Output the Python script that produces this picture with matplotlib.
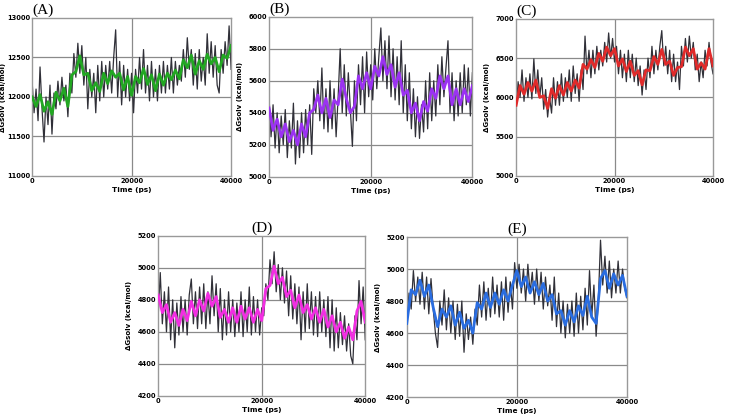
import numpy as np
import matplotlib
matplotlib.use("Agg")
import matplotlib.pyplot as plt

# time axis (ps)
t_raw = np.arange(0, 40001, 400)
t_mid = np.arange(0, 40001, 800)

# (A) raw trace and coloured inner trace
a_raw = [12200, 11800, 12100, 11700, 12380, 11850, 11430, 12000, 11650, 12150,
         11530, 12050, 11850, 12200, 11900, 12250, 11950, 12150, 11750, 12300,
         12050, 12550, 12250, 12680, 12300, 12650, 12150, 12500, 11850, 12350,
         12000, 12300, 11800, 12400, 11950, 12450, 12000, 12400, 12100, 12450,
         12050, 12500, 12850, 12000, 12450, 11900, 12400, 12000, 12350, 11950,
         12300, 11800, 12350, 12050, 12500, 12100, 12600, 12050, 12400, 11950,
         12450, 12000, 12350, 11950, 12400, 12050, 12450, 12050, 12400, 12100,
         12500, 12050, 12450, 12150, 12400, 12200, 12600, 12250, 12750, 12350,
         12600, 12150, 12550, 12100, 12600, 12200, 12500, 12150, 12800, 12300,
         12700, 12250, 12650, 12150, 12050, 12600, 12300, 12700, 12400, 12900,
         12350]
a_mid = [12000, 11880, 12030, 11820, 11940, 11780, 12060, 11950, 12110, 11880,
         12280, 12320, 12520, 12280, 12300, 12080, 12180, 12070, 12300, 12170,
         12330, 12250, 12300, 12090, 12260, 12020, 12260, 12180, 12360, 12160,
         12280, 12080, 12290, 12150, 12300, 12220, 12340, 12230, 12470, 12370,
         12530, 12290, 12460, 12350, 12540, 12420, 12500, 12320, 12530, 12490,
         12650]

# (B)
b_raw = [5500, 5250, 5450, 5180, 5400, 5150, 5380, 5200, 5420, 5120,
         5350, 5180, 5460, 5080, 5350, 5120, 5400, 5150, 5420, 5200,
         5450, 5140, 5550, 5400, 5600, 5350, 5680, 5300, 5550, 5280,
         5600, 5300, 5550, 5250, 5500, 5800, 5400, 5700, 5380, 5650,
         5420, 5190, 5600, 5350, 5700, 5450, 5750, 5400, 5780, 5500,
         5700, 5480, 5800, 5550, 5750, 5930, 5600, 5850, 5550, 5880,
         5500, 5800, 5480, 5750, 5450, 5850, 5400, 5700, 5350, 5650,
         5300, 5550, 5250, 5500, 5240, 5450, 5280, 5600, 5300, 5650,
         5350, 5600, 5380, 5700, 5450, 5750, 5500, 5680, 5850, 5400,
         5650, 5350, 5600, 5380, 5650, 5400, 5700, 5450, 5680, 5380,
         5650]
b_mid = [5430, 5290, 5360, 5250, 5330, 5220, 5290, 5200, 5330, 5250,
         5400, 5420, 5510, 5400, 5490, 5370, 5480, 5450, 5610, 5490,
         5400, 5440, 5630, 5550, 5650, 5550, 5690, 5630, 5750, 5640,
         5700, 5560, 5650, 5510, 5540, 5400, 5460, 5350, 5470, 5410,
         5550, 5490, 5630, 5550, 5630, 5450, 5550, 5450, 5550, 5470,
         5570]

# (C)
c_raw = [5850, 6200, 6000, 6350, 5950, 6250, 6000, 6300, 5980, 6490,
         6050, 6350, 6000, 6250, 5850, 6100, 5750, 6000, 5800, 6250,
         5900, 6200, 5900, 6300, 5950, 6250, 6000, 6350, 5950, 6400,
         6050, 6300, 5950, 6350, 6100, 6780, 6300, 6600, 6250, 6600,
         6300, 6650, 6350, 6600, 6400, 6700, 6450, 6820, 6500, 6750,
         6450, 6650, 6300, 6600, 6250, 6550, 6200, 6600, 6250, 6550,
         6200, 6500, 6150, 6400, 6030, 6350, 6100, 6500, 6250, 6650,
         6300, 6600, 6350, 6650, 6850, 6400, 6650, 6300, 6600, 6200,
         6550, 6200, 6450, 6100, 6650, 6400, 6750, 6450, 6780, 6500,
         6700, 6350, 6550, 6200, 6450, 6250, 6600, 6400, 6700, 6450,
         6300]
c_mid = [5900, 6150, 6040, 6190, 6080, 6220, 6000, 6020, 5860, 6110,
         5990, 6150, 6030, 6190, 6080, 6220, 6120, 6420, 6360, 6480,
         6380, 6560, 6460, 6640, 6530, 6620, 6400, 6490, 6330, 6460,
         6280, 6340, 6160, 6350, 6340, 6520, 6420, 6610, 6420, 6460,
         6280, 6380, 6390, 6640, 6530, 6620, 6360, 6440, 6360, 6620,
         6400]

# (D)
d_raw = [4700, 4970, 4650, 4850, 4600, 4880, 4550, 4800, 4500, 4780,
         4580, 4820, 4600, 4800, 4580, 4830, 4930, 4650, 4850, 4620,
         4880, 4650, 4900, 4620, 4850, 4650, 4950, 4700, 4900, 4600,
         4870, 4550, 4800, 4580, 4850, 4600, 4800, 4570, 4780, 4600,
         4850, 4570, 4800, 4600, 4880, 4580, 4820, 4600, 4800, 4580,
         4750, 4700, 4900, 4800, 5050, 4900, 5100, 4850, 5020, 4800,
         5000, 4780, 4980, 4700, 4950, 4680, 4900, 4650, 4880, 4550,
         4850, 4600, 4900, 4620, 4850, 4580, 4820, 4570, 4850, 4600,
         4800, 4570, 4820, 4500, 4800, 4480, 4750, 4500, 4720, 4520,
         4700, 4480, 4650, 4450, 4400, 4700, 4550, 4920, 4650, 4880,
         4550]
d_mid = [4830, 4720, 4770, 4660, 4720, 4640, 4740, 4670, 4790, 4700,
         4800, 4730, 4840, 4760, 4820, 4690, 4740, 4660, 4750, 4660,
         4760, 4680, 4750, 4660, 4740, 4670, 4870, 4890, 5010, 4900,
         4940, 4820, 4860, 4750, 4830, 4720, 4770, 4680, 4750, 4660,
         4740, 4630, 4700, 4600, 4660, 4560, 4630, 4550, 4730, 4790,
         4660]

# (E)
e_raw = [4650, 4850, 4750, 4990, 4800, 4950, 4780, 4980, 4750, 4950,
         4720, 4940, 4750, 4600, 4510, 4800, 4650, 4870, 4620, 4820,
         4600, 4800, 4560, 4780, 4580, 4800, 4480, 4720, 4560, 4700,
         4530, 4750, 4650, 4900, 4700, 4920, 4680, 4880, 4700, 4950,
         4720, 4900, 4700, 4920, 4680, 4950, 4730, 4920, 4750, 5040,
         4880, 5030, 4850, 5000, 4800, 5030, 4850, 4980, 4780, 5000,
         4800, 4980, 4750, 4950, 4770, 4900, 4680, 4950, 4640, 4850,
         4600, 4800, 4570, 4780, 4600, 4800, 4580, 4850, 4600, 4830,
         4620, 4880, 4650, 4990, 4700, 4900, 4580, 4800, 5180, 4900,
         5080, 4850, 5050, 4820, 5000, 4850, 5050, 4850, 5000, 4880,
         4820]
e_mid = [4660, 4870, 4840, 4930, 4830, 4900, 4760, 4640, 4750, 4700,
         4770, 4650, 4730, 4630, 4680, 4600, 4790, 4750, 4850, 4760,
         4850, 4780, 4870, 4800, 4900, 4990, 4890, 4950, 4850, 4920,
         4840, 4910, 4800, 4840, 4720, 4740, 4650, 4740, 4670, 4770,
         4710, 4830, 4700, 4660, 4940, 4990, 4880, 4970, 4900, 4960,
         4830]

panels = [
    ("(A)", a_raw, a_mid, "#22a722", (11000, 13000), 500, [0.044, 0.579, 0.273, 0.378], "left"),
    ("(B)", b_raw, b_mid, "#9b32f2", (5000, 6000), 200, [0.369, 0.577, 0.279, 0.383], "left"),
    ("(C)", c_raw, c_mid, "#e02a2a", (5000, 7000), 500, [0.708, 0.579, 0.270, 0.376], "left"),
    ("(D)", d_raw, d_mid, "#f22ee2", (4200, 5200), 200, [0.217, 0.053, 0.284, 0.383], "center"),
    ("(E)", e_raw, e_mid, "#2a6de0", (4200, 5200), 200, [0.558, 0.050, 0.302, 0.383], "center"),
]

fig = plt.figure(figsize=(7.29, 4.18), dpi=100)

for title, raw, mid, color, ylim, step, pos, loc in panels:
    ax = fig.add_axes(pos)
    ax.plot(t_raw, raw, color="#303038", lw=0.9, zorder=2)
    ax.plot(t_mid, mid, color=color, lw=2.0, zorder=3)
    ax.set_xlim(0, 40000)
    ax.set_ylim(*ylim)
    ax.set_xticks([0, 20000, 40000])
    ax.set_yticks(np.arange(ylim[0], ylim[1] + 1, step))
    for y in np.arange(ylim[0] + step, ylim[1], step):
        ax.axhline(y, color="#8a8a8a", lw=0.9, zorder=1)
    ax.axvline(20000, color="#8a8a8a", lw=0.9, zorder=1)
    ax.tick_params(length=0, labelsize=4.8, pad=1.5)
    for lab in ax.get_xticklabels() + ax.get_yticklabels():
        lab.set_fontweight("bold")
    for sp in ax.spines.values():
        sp.set_color("#999999")
        sp.set_linewidth(1.0)
    ax.set_xlabel("Time (ps)", fontsize=5.3, fontweight="bold", labelpad=2)
    ax.set_ylabel("ΔGsolv (kcal/mol)", fontsize=5.0, fontweight="bold")
    # keep the y label a fixed pixel distance left of the axes
    width_px = pos[2] * 729
    ax.yaxis.set_label_coords(-26 / width_px, 0.5)
    ax.set_title(title, loc=loc, fontsize=11, family="Liberation Serif", pad=3)

fig.savefig("out.png", dpi=100)
